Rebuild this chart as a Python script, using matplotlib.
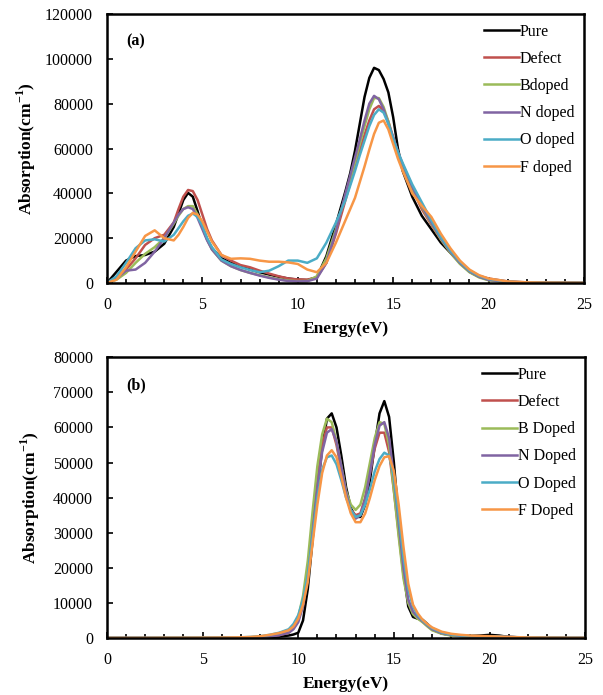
import matplotlib
matplotlib.use("Agg")
import matplotlib.pyplot as plt
from matplotlib.ticker import MultipleLocator

plt.rcParams['font.family'] = ['Liberation Serif', 'DejaVu Serif']
plt.rcParams['mathtext.fontset'] = 'custom'
plt.rcParams['mathtext.rm'] = 'Liberation Serif'
plt.rcParams['mathtext.bf'] = 'Liberation Serif:bold'

# ---------------- Panel (a) ----------------
energy_a = [0, 0.5, 1, 1.5, 2, 2.5, 3, 3.5, 3.75, 4, 4.25, 4.5, 4.75, 5, 5.25, 5.5, 6, 6.5, 7,
            7.5, 8, 8.5, 9, 9.5, 10, 10.5, 11, 11.5, 12, 12.5, 12.75, 13, 13.25, 13.5, 13.75,
            14, 14.25, 14.5, 14.75, 15, 15.25, 15.5, 16, 16.5, 17, 17.5, 18, 18.5, 19, 19.5,
            20, 21, 22, 23, 24, 25]
labels_a = ["Pure", "Defect", "Bdoped", "N doped", "O doped", "F doped"]
pure_a = [0, 5000, 10000, 12000, 12500, 14000, 17500, 25000, 31000, 37000, 40200, 38500, 32000,
          25000, 19500, 15500, 11000, 9000, 7500, 6000, 4800, 3800, 2800, 2000, 1500, 1300, 2500,
          12000, 26000, 41000, 49000, 59000, 71000, 83000, 91500, 96000, 95000, 91000, 85000,
          74000, 60000, 50000, 38500, 30000, 24000, 18000, 13500, 9000, 5000, 2800, 1500, 500,
          200, 100, 50, 0]
defect_a = [0, 2500, 6000, 11000, 17000, 20000, 21500, 27000, 33000, 38500, 41500, 41000, 37000,
            30500, 24000, 19000, 12500, 10000, 8000, 7000, 5500, 4200, 3000, 2000, 1600, 1500,
            2500, 9000, 22000, 37000, 44500, 52000, 59000, 66000, 72500, 77500, 79000, 77000,
            72000, 65000, 58000, 52000, 42000, 33000, 26000, 19500, 14000, 9500, 5500, 3200,
            2000, 700, 300, 150, 80, 0]
bdoped_a = [0, 1500, 4500, 9000, 13000, 16000, 20000, 26500, 30000, 33000, 34300, 34300, 30500,
            25000, 19500, 15000, 10000, 7500, 5800, 4500, 3500, 2500, 1700, 1100, 800, 900, 3000,
            11000, 24000, 39000, 46500, 54000, 62000, 70000, 77500, 82500, 82500, 78500, 72000,
            64000, 57500, 52000, 42000, 34000, 26500, 19500, 13500, 8500, 4800, 2500, 1200, 400,
            150, 80, 40, 0]
ndoped_a = [0, 2000, 5500, 6000, 9000, 14000, 20000, 27000, 30500, 33000, 33800, 33000, 29000,
            24000, 19000, 15000, 10000, 7500, 5800, 4500, 3300, 2300, 1500, 900, 700, 800, 2000,
            9000, 23000, 40000, 48000, 56000, 64000, 72500, 80000, 83500, 82000, 77500, 71000,
            65000, 58500, 53000, 43000, 34500, 27000, 20000, 14000, 9000, 5200, 2800, 1400, 500,
            200, 100, 50, 0]
odoped_a = [0, 3000, 9000, 15500, 19000, 19500, 18500, 21500, 24500, 27500, 30000, 31000, 29500,
            25500, 20000, 16000, 10500, 8500, 7000, 5800, 4800, 5500, 7500, 10000, 10000, 9000,
            11000, 18000, 27000, 37000, 43500, 50000, 57000, 63500, 70000, 75000, 77500, 76000,
            71000, 64500, 58500, 53500, 44000, 36000, 28000, 20500, 14500, 9500, 5500, 3200, 1800,
            600, 250, 120, 60, 0]
fdoped_a = [0, 1500, 7000, 14000, 21000, 23500, 20000, 19000, 21500, 25000, 29000, 31300, 30500,
            27500, 23000, 18500, 12500, 10800, 11000, 10800, 10000, 9500, 9500, 9200, 8500, 6000,
            4800, 9000, 18000, 28000, 33000, 38000, 45000, 52000, 59500, 66500, 71500, 72500,
            68500, 62000, 55500, 50000, 40000, 34500, 29500, 22000, 15500, 10000, 6000, 3500,
            2000, 700, 300, 150, 80, 0]

# ---------------- Panel (b) ----------------
energy_b = [0, 1, 2, 3, 4, 5, 6, 7, 7.5, 8, 8.5, 9, 9.5, 9.75, 10, 10.25, 10.5, 10.75, 11, 11.25,
            11.5, 11.75, 12, 12.25, 12.5, 12.75, 13, 13.25, 13.5, 13.75, 14, 14.25, 14.5, 14.75,
            15, 15.25, 15.5, 15.75, 16, 16.25, 16.5, 16.75, 17, 17.5, 18, 18.5, 19, 19.5, 20,
            20.5, 21, 22, 23, 24, 25]
labels_b = ["Pure", "Defect", "B Doped", "N Doped", "O Doped", "F Doped"]
pure_b = [0, 0, 0, 0, 0, 0, 0, 50, 80, 100, 200, 400, 700, 1000, 1500, 5000, 14000, 28000, 42000,
          54000, 62500, 64000, 60000, 52000, 43000, 37000, 34500, 34500, 38000, 45000, 55000,
          64000, 67500, 63000, 50000, 34000, 19000, 9000, 6000, 5500, 5200, 4000, 2600, 1300,
          800, 600, 600, 700, 900, 700, 300, 100, 50, 0, 0]
defect_b = [0, 0, 0, 0, 0, 0, 50, 100, 150, 250, 500, 800, 1500, 2800, 5000, 10000, 19000, 32000,
            45000, 55000, 60000, 60000, 55000, 48000, 41000, 36500, 35000, 35500, 40000, 47000,
            54000, 58500, 58500, 53000, 42000, 30000, 18000, 10500, 7000, 5800, 4700, 3500, 2400,
            1300, 800, 600, 500, 500, 500, 400, 300, 100, 50, 0, 0]
bdoped_b = [0, 0, 0, 0, 0, 0, 50, 100, 200, 300, 600, 1000, 2000, 3500, 6000, 12000, 22000, 36000,
            49000, 58000, 62500, 61500, 56000, 49000, 42000, 38000, 36500, 38000, 43000, 50000,
            57000, 61500, 61000, 55000, 42000, 29000, 17000, 10000, 6800, 5500, 4500, 3300, 2200,
            1200, 700, 500, 400, 400, 400, 300, 200, 100, 50, 0, 0]
ndoped_b = [0, 0, 0, 0, 0, 0, 50, 100, 150, 250, 500, 800, 1500, 2500, 4500, 9000, 17000, 30000,
            43000, 53000, 58500, 59500, 56000, 49000, 41500, 36000, 34000, 35000, 39500, 47000,
            55000, 60500, 61500, 57000, 46000, 33000, 20000, 11000, 7500, 6000, 4800, 3600, 2500,
            1400, 900, 600, 500, 500, 500, 400, 300, 100, 50, 0, 0]
odoped_b = [0, 0, 0, 50, 50, 80, 120, 200, 300, 500, 900, 1500, 2500, 4000, 6500, 11000, 18000,
            29000, 40000, 48000, 51500, 52000, 49500, 45000, 40000, 36500, 34500, 35000, 38000,
            42500, 47500, 51000, 52800, 52000, 46000, 35000, 23000, 14000, 9000, 6500, 5000, 3800,
            2800, 1600, 1000, 700, 600, 500, 500, 400, 300, 150, 80, 30, 0]
fdoped_b = [0, 0, 0, 50, 50, 80, 120, 200, 300, 500, 900, 1400, 2200, 3300, 5500, 9500, 16000,
            27000, 38000, 47000, 52000, 53500, 51500, 46000, 40000, 35500, 33000, 33000, 35500,
            40000, 45000, 49000, 51500, 51800, 47500, 38000, 26000, 15500, 9500, 7000, 5200, 4000,
            3000, 1800, 1200, 900, 700, 600, 500, 400, 300, 150, 80, 30, 0]

colors = ["#000000", "#c0504d", "#9bbb59", "#8064a2", "#4bacc6", "#f79646"]

fig = plt.figure(figsize=(6.03, 6.95), dpi=100)
ax1 = fig.add_axes([0.1774, 0.5928, 0.791, 0.387])
ax2 = fig.add_axes([0.1774, 0.082, 0.793, 0.404])

series_a = [pure_a, defect_a, bdoped_a, ndoped_a, odoped_a, fdoped_a]
series_b = [pure_b, defect_b, bdoped_b, ndoped_b, odoped_b, fdoped_b]

for ax, E, series, labels, ymax, ystep, tag, ylp in [
        (ax1, energy_a, series_a, labels_a, 120000, 20000, "(a)", 5),
        (ax2, energy_b, series_b, labels_b, 80000, 10000, "(b)", 8)]:
    for ys, c, lab in zip(series, colors, labels):
        ax.plot(E, ys, color=c, lw=1.8, label=lab, solid_joinstyle='round')
    ax.set_xlim(0, 25)
    ax.set_ylim(0, ymax)
    ax.xaxis.set_major_locator(MultipleLocator(5))
    ax.xaxis.set_minor_locator(MultipleLocator(1))
    ax.yaxis.set_major_locator(MultipleLocator(ystep))
    ax.tick_params(axis='both', which='both', direction='in', labelsize=11.5, width=1.2)
    ax.tick_params(axis='x', which='major', length=4, pad=10)
    ax.tick_params(axis='x', which='minor', length=3)
    ax.tick_params(axis='y', which='major', length=4, pad=10)
    for sp in ax.spines.values():
        sp.set_linewidth(1.8)
    ax.set_xlabel("Energy(eV)", fontsize=12.5, fontweight='bold', labelpad=6)
    ax.set_ylabel(r"Absorption(cm$^{\mathbf{-1}}$)", fontsize=12.5, fontweight='bold',
                  labelpad=ylp)
    ax.text(0.04, 0.9, tag, transform=ax.transAxes, fontsize=11.5, fontweight='bold',
            ha='left', va='center')
    ax.legend(loc='upper right', frameon=False, fontsize=11.5, handlelength=2.2,
              handletextpad=0.05, labelspacing=0.7, borderaxespad=0.2,
              bbox_to_anchor=(1.0, 1.0))

fig.savefig("out.png", dpi=100)
